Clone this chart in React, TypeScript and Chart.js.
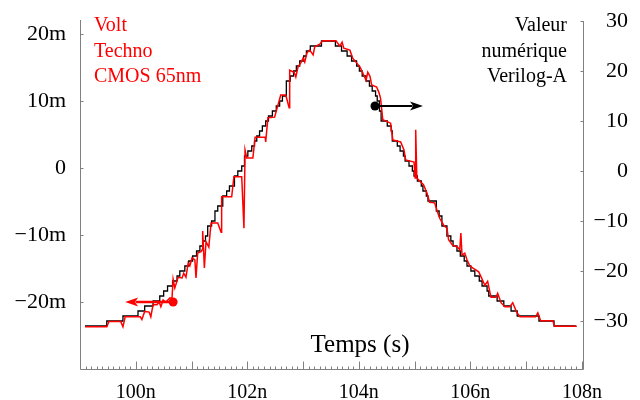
import React, { useEffect, useRef } from "react";
import { Chart, registerables } from "chart.js";

Chart.register(...registerables);

// ---- Data ----
// Black: Verilog-A digital value (right axis), stepped; value holds from its time to the next
const blackT = [
  99.09, 99.48, 99.77, 100.04, 100.16, 100.31, 100.43, 100.5, 100.57, 100.66,
  100.74, 100.79, 100.88, 100.95, 101.02, 101.09, 101.15, 101.2, 101.25, 101.29,
  101.36, 101.42, 101.47, 101.56, 101.63, 101.68, 101.77, 101.83, 101.9, 101.95,
  102.01, 102.08, 102.13, 102.17, 102.22, 102.27, 102.33, 102.38, 102.45, 102.52,
  102.58, 102.63, 102.7, 102.77, 102.83, 102.88, 102.94, 103.01, 103.06, 103.13,
  103.33,
  103.58, 103.69, 103.79, 103.87, 103.96, 104.01, 104.06, 104.13, 104.19, 104.24,
  104.3, 104.33, 104.37, 104.4, 104.51, 104.58, 104.6, 104.69, 104.74, 104.8,
  104.83, 104.9, 104.96, 104.99, 105.05, 105.12, 105.15, 105.21, 105.24, 105.39,
  105.44, 105.49, 105.58, 105.65, 105.69, 105.76, 105.82, 105.89, 105.94, 106.01,
  106.08, 106.16, 106.21, 106.3, 106.33, 106.48, 106.6, 106.73, 106.84, 107.23,
  107.5, 107.89,
];
const blackLevel = [
  -31, -30, -29, -28, -27, -26, -25, -24, -23, -22,
  -21, -20, -19, -18, -17, -16, -15, -14, -13, -11,
  -10, -8, -7, -5, -4, -3, -1, 0, 1, 3,
  4, 5, 6, 7, 8, 9, 10, 11, 12, 13,
  14, 15, 18, 19, 20, 21, 22, 23, 24, 25,
  26,
  25, 24, 23, 22, 21, 20, 19, 18, 17, 16,
  15, 14, 12, 10, 9, 8, 6, 5, 4, 3,
  2, 1, 0, -1, -2, -3, -4, -5, -6, -8,
  -9, -11, -13, -14, -15, -16, -17, -18, -19, -20,
  -21, -22, -23, -24, -25, -26, -27, -28, -29, -30,
  -31, -31,
];

// Red: analog voltage, CMOS 65nm (left axis, mV)
const redT = [
  99.09, 99.48, 99.52, 99.73, 99.77, 99.81, 100.08, 100.11, 100.16, 100.24,
  100.27, 100.31, 100.38, 100.42, 100.45, 100.49, 100.54, 100.61, 100.65, 100.67,
  100.7, 100.76, 100.83, 100.86, 100.9, 100.94, 100.97, 101.01, 101.06, 101.08,
  101.11, 101.17, 101.19, 101.2, 101.23, 101.26, 101.31, 101.35, 101.47, 101.53,
  101.54, 101.72, 101.76, 101.9, 101.94, 101.96, 101.99, 102.1, 102.14, 102.32,
  102.33, 102.37, 102.49, 102.55, 102.6, 102.69, 102.75, 102.76, 102.84, 102.87,
  102.91, 102.96, 103.0, 103.03, 103.07, 103.12, 103.18, 103.21, 103.3, 103.35,
  103.59, 103.66, 103.7, 103.73, 103.84, 103.89, 103.96, 104.02, 104.07, 104.13,
  104.16, 104.2, 104.23, 104.32, 104.36, 104.39, 104.43, 104.57, 104.61, 104.75,
  104.81, 104.84, 104.99, 105.01, 105.02, 105.04, 105.11, 105.16, 105.22, 105.27,
  105.36, 105.4, 105.45, 105.52, 105.58, 105.61, 105.68, 105.77, 105.81, 105.83,
  105.85, 105.9, 105.94, 105.99, 106.04, 106.15, 106.2, 106.26, 106.31, 106.37,
  106.46, 106.49, 106.55, 106.62, 106.71, 106.76, 106.83, 106.89, 107.17, 107.21,
  107.26, 107.48, 107.51, 107.91,
];
const redMv = [
  -23.7, -23.7, -22.9, -22.9, -23.7, -22.2, -22.2, -22.6, -21.4, -21.5,
  -22.2, -20.4, -20.4, -20.0, -20.7, -19.7, -20.0, -19.4, -19.4, -16.6,
  -17.9, -16.3, -16.4, -15.7, -16.3, -14.2, -14.6, -13.4, -13.7, -16.4,
  -12.7, -12.5, -12.2, -9.4, -14.9, -11.0, -11.8, -8.2, -8.2, -9.6,
  -4.3, -4.3, -1.3, -1.3, -9.0, 2.7, 1.5, 1.5, 4.6, 4.6,
  3.9, 7.5, 7.6, 9.4, 10.9, 10.9, 9.0, 14.6, 14.3, 13.6,
  15.1, 15.7, 16.4, 15.8, 17.2, 17.6, 16.9, 18.1, 18.5, 19.0,
  19.0, 18.2, 18.8, 17.9, 17.6, 16.4, 15.7, 15.1, 14.2, 13.1,
  14.3, 13.7, 12.4, 12.1, 11.3, 10.4, 7.2, 6.7, 4.2, 3.9,
  2.7, 1.2, 0.9, -1.5, 5.7, -1.5, -2.1, -2.5, -3.7, -5.1,
  -5.2, -6.3, -7.5, -8.5, -9.0, -10.7, -11.5, -11.8, -12.2, -9.7,
  -13.0, -12.7, -13.7, -14.6, -14.9, -15.5, -16.4, -17.5, -16.9, -19.3,
  -19.3, -18.7, -20.1, -20.7, -20.7, -20.1, -21.5, -22.2, -22.2, -21.6,
  -22.8, -22.8, -23.6, -23.6,
];

// Axes
const leftTicks = [-20, -10, 0, 10, 20];
const rightTicks = [-30, -20, -10, 0, 10, 20, 30];
const xLabelTicks = [100, 102, 104, 106, 108];
const xMin = 99;
const xMax = 108.02;
const leftMin = -30;
const leftMax = 22.1;
const rightMin = -39.6;
const rightMax = 30.2;

// Annotations
const leftTextLines = ["Volt", "Techno", "CMOS 65nm"];
const rightTextLines = ["Valeur", "numérique", "Verilog-A"];
const xTitle = "Temps (s)";
const blackArrow = { t: 104.29, v: 13.0, tip: 105.15 }; // right axis
const redArrow = { t: 100.67, v: -20.0, tip: 99.81 }; // left axis

const SERIF = "'Liberation Serif', 'Times New Roman', serif";
const AXIS = "#808080";
const RED = "#ff0000";

const minus = (n: number) => (n < 0 ? "\u2212" + Math.abs(n) : String(n));

function drawArrow(ctx: CanvasRenderingContext2D, x0: number, y: number, x1: number, color: string, lw: number) {
  const dir = Math.sign(x1 - x0);
  const head = 13;
  const half = 4.5;
  ctx.save();
  ctx.fillStyle = color;
  ctx.strokeStyle = color;
  ctx.lineWidth = lw;
  ctx.beginPath();
  ctx.moveTo(x0, y);
  ctx.lineTo(x1 - dir * head * 0.8, y);
  ctx.stroke();
  ctx.beginPath();
  ctx.moveTo(x1, y);
  ctx.lineTo(x1 - dir * head, y - half);
  ctx.lineTo(x1 - dir * head * 0.75, y);
  ctx.lineTo(x1 - dir * head, y + half);
  ctx.closePath();
  ctx.fill();
  ctx.beginPath();
  ctx.arc(x0, y, 4.5, 0, Math.PI * 2);
  ctx.fill();
  ctx.restore();
}

const decorPlugin = {
  id: "decor",
  beforeDatasetsDraw(chart: any) {
    const { ctx, chartArea: a, scales } = chart;
    const xs = scales.x;
    const yl = scales.yL;
    const yr = scales.yR;
    ctx.save();
    ctx.strokeStyle = AXIS;
    ctx.lineWidth = 1;
    ctx.beginPath();
    const L = Math.round(a.left) + 0.5;
    const R = Math.round(a.right) + 0.5;
    const B = Math.round(a.bottom) + 0.5;
    ctx.moveTo(L, a.top);
    ctx.lineTo(L, B);
    ctx.lineTo(R, B);
    ctx.moveTo(R, a.top + 1);
    ctx.lineTo(R, B);
    leftTicks.forEach((v) => {
      const p = Math.round(yl.getPixelForValue(v)) + 0.5;
      ctx.moveTo(L, p);
      ctx.lineTo(L + 3, p);
    });
    rightTicks.forEach((v) => {
      const p = Math.round(yr.getPixelForValue(v)) + 0.5;
      ctx.moveTo(R, p);
      ctx.lineTo(R - 3, p);
    });
    // x ticks: major every 1 ns, minor every 0.1 ns, drawn inward
    for (let k = Math.ceil(xMin * 10); k <= Math.floor(xMax * 10); k++) {
      const p = Math.round(xs.getPixelForValue(k / 10)) + 0.5;
      if (p <= L + 1 || p > R) continue;
      const len = k % 10 === 0 ? 8 : 3;
      ctx.moveTo(p, B);
      ctx.lineTo(p, B - len);
    }
    ctx.stroke();
    ctx.restore();
  },
  afterDatasetsDraw(chart: any) {
    const { ctx, scales } = chart;
    const xs = scales.x;
    const yl = scales.yL;
    const yr = scales.yR;
    drawArrow(ctx, xs.getPixelForValue(blackArrow.t), yr.getPixelForValue(blackArrow.v), xs.getPixelForValue(blackArrow.tip), "#000000", 2);
    drawArrow(ctx, xs.getPixelForValue(redArrow.t), yl.getPixelForValue(redArrow.v), xs.getPixelForValue(redArrow.tip), RED, 2.5);

    ctx.save();
    ctx.textBaseline = "alphabetic";
    ctx.font = `20px ${SERIF}`;
    ctx.fillStyle = RED;
    ctx.textAlign = "left";
    leftTextLines.forEach((s, i) => ctx.fillText(s, 94, 31 + i * 25.5));
    ctx.fillStyle = "#000000";
    ctx.textAlign = "right";
    rightTextLines.forEach((s, i) => ctx.fillText(s, 567, 31 + i * 25.5));
    ctx.font = `25px ${SERIF}`;
    ctx.textAlign = "center";
    ctx.fillText(xTitle, 360, 352);
    ctx.restore();
  },
};

const zeroPad = (scale: any) => {
  scale.paddingTop = 0;
  scale.paddingBottom = 0;
  scale.paddingLeft = 0;
  scale.paddingRight = 0;
};

export default function App() {
  const ref = useRef<HTMLCanvasElement | null>(null);

  useEffect(() => {
    if (!ref.current) return;
    const chart = new Chart(ref.current, {
      type: "line",
      data: {
        datasets: [
          {
            label: "Volt",
            data: redT.map((t, i) => ({ x: t, y: redMv[i] })),
            yAxisID: "yL",
            borderColor: RED,
            borderWidth: 1.5,
            pointRadius: 0,
            fill: false,
            tension: 0,
          },
          {
            label: "Valeur numérique",
            data: blackT.map((t, i) => ({ x: t, y: blackLevel[i] })),
            yAxisID: "yR",
            borderColor: "#000000",
            borderWidth: 1.3,
            pointRadius: 0,
            fill: false,
            stepped: "before",
          },
        ],
      },
      options: {
        responsive: false,
        animation: false,
        events: [],
        layout: { padding: { top: 20, right: 12, bottom: 0, left: 0 } },
        plugins: { legend: { display: false }, tooltip: { enabled: false } },
        scales: {
          x: {
            type: "linear",
            position: "bottom",
            min: xMin,
            max: xMax,
            grid: { display: false, drawTicks: false },
            border: { display: false },
            afterBuildTicks: (s: any) => {
              s.ticks = xLabelTicks.map((v) => ({ value: v }));
            },
            afterFit: (s: any) => {
              s.height = 31;
              zeroPad(s);
            },
            ticks: {
              autoSkip: false,
              maxRotation: 0,
              padding: 12,
              color: "#000000",
              font: { family: SERIF, size: 20 },
              callback: (v: any) => minus(Number(v)) + "n",
            },
          },
          yL: {
            type: "linear",
            position: "left",
            min: leftMin,
            max: leftMax,
            grid: { display: false, drawTicks: false },
            border: { display: false },
            afterBuildTicks: (s: any) => {
              s.ticks = leftTicks.map((v) => ({ value: v }));
            },
            afterFit: (s: any) => {
              s.width = 80;
              zeroPad(s);
            },
            ticks: {
              padding: 14,
              color: "#000000",
              font: { family: SERIF, size: 22 },
              callback: (v: any) => (Number(v) === 0 ? "0" : minus(Number(v)) + "m"),
            },
          },
          yR: {
            type: "linear",
            position: "right",
            min: rightMin,
            max: rightMax,
            grid: { display: false, drawTicks: false },
            border: { display: false },
            afterBuildTicks: (s: any) => {
              s.ticks = rightTicks.map((v) => ({ value: v }));
            },
            afterFit: (s: any) => {
              s.width = 45;
              zeroPad(s);
            },
            ticks: {
              padding: 8,
              crossAlign: "far",
              color: "#000000",
              font: { family: SERIF, size: 22 },
              callback: (v: any) => minus(Number(v)),
            },
          },
        },
      },
      plugins: [decorPlugin],
    } as any);
    return () => chart.destroy();
  }, []);

  return (
    <div style={{ position: "fixed", left: 0, top: 0, width: 640, height: 400, background: "#ffffff" }}>
      <canvas ref={ref} width={640} height={400} style={{ display: "block" }} />
    </div>
  );
}
